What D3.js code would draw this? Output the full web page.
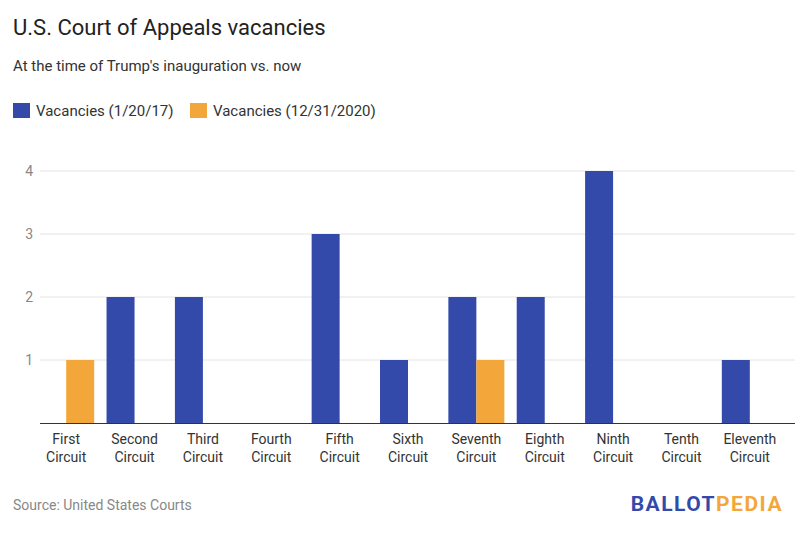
<!DOCTYPE html>
<html><head><meta charset="utf-8">
<script src="https://cdn.jsdelivr.net/npm/d3@7"></script>
<style>body{margin:0;background:#fff;font-family:Roboto,sans-serif}</style>
</head><body>
<script>
var circuits = ["First Circuit","Second Circuit","Third Circuit","Fourth Circuit","Fifth Circuit","Sixth Circuit","Seventh Circuit","Eighth Circuit","Ninth Circuit","Tenth Circuit","Eleventh Circuit"]
var vac2017 = [0,2,2,0,3,1,2,2,4,0,1]
var vac2020 = [1,0,0,0,0,0,1,0,0,0,0]
var seriesNames = ["Vacancies (1/20/17)","Vacancies (12/31/2020)"]
var colors = ["#334aab","#f3a73b"]
var yTicks = [1,2,3,4]

var svg = d3.select('body').append('svg').attr('width',800).attr('height',542)

svg.append('text').attr('x',13).attr('y',35).attr('font-size',22).attr('fill','#222').text('U.S. Court of Appeals vacancies')
svg.append('text').attr('x',13).attr('y',71).attr('font-size',15).attr('fill','#333').text("At the time of Trump's inauguration vs. now")

seriesNames.forEach(function(n,i){
  var x = i==0 ? 13 : 190
  svg.append('rect').attr('x',x).attr('y',103).attr('width',17).attr('height',15).attr('fill',colors[i])
  svg.append('text').attr('x',x+23).attr('y',116).attr('font-size',15).attr('fill','#333').text(n)
})

var x = d3.scaleBand().domain(circuits).range([32,784])
var y = d3.scaleLinear().domain([0,4]).range([423,171])

svg.append('g').selectAll('line').data(yTicks).enter().append('line')
  .attr('x1',40).attr('x2',795).attr('y1',function(d){return y(d)}).attr('y2',function(d){return y(d)})
  .attr('stroke','#e4e4e4')
svg.append('g').selectAll('text').data(yTicks).enter().append('text')
  .attr('x',33).attr('y',function(d){return y(d)+5}).attr('text-anchor','end')
  .attr('font-size',14).attr('fill','#888').text(function(d){return d})

var bw = 28
var rows = circuits.map(function(c,i){return [{c:c,v:vac2017[i],s:0},{c:c,v:vac2020[i],s:1}]}).flat()
svg.append('g').selectAll('rect').data(rows.filter(function(d){return d.v>0})).enter().append('rect')
  .attr('x',function(d){return x(d.c)+x.bandwidth()/2+(d.s==0?-bw:0)})
  .attr('y',function(d){return y(d.v)}).attr('width',bw)
  .attr('height',function(d){return y(0)-y(d.v)}).attr('fill',function(d){return colors[d.s]})

svg.append('line').attr('x1',40).attr('x2',795).attr('y1',423.5).attr('y2',423.5).attr('stroke','#333')

var lab = svg.append('g').selectAll('text').data(circuits).enter().append('text')
  .attr('text-anchor','middle').attr('font-size',14).attr('fill','#333')
  .attr('transform',function(d){return 'translate('+(x(d)+x.bandwidth()/2)+',444)'})
lab.append('tspan').attr('x',0).attr('dy',0).text(function(d){return d.split(' ')[0]})
lab.append('tspan').attr('x',0).attr('dy',18).text(function(d){return d.split(' ')[1]})

svg.append('text').attr('x',13).attr('y',510).attr('font-size',14).attr('fill','#888').text('Source: United States Courts')
var logo = svg.append('text').attr('x',783).attr('y',511).attr('text-anchor','end').attr('font-size',21).attr('font-weight','bold').attr('letter-spacing',1.5)
logo.append('tspan').attr('fill','#334aab').text('BALLOT')
logo.append('tspan').attr('fill','#f3a73b').text('PEDIA')
</script>
</body></html>
